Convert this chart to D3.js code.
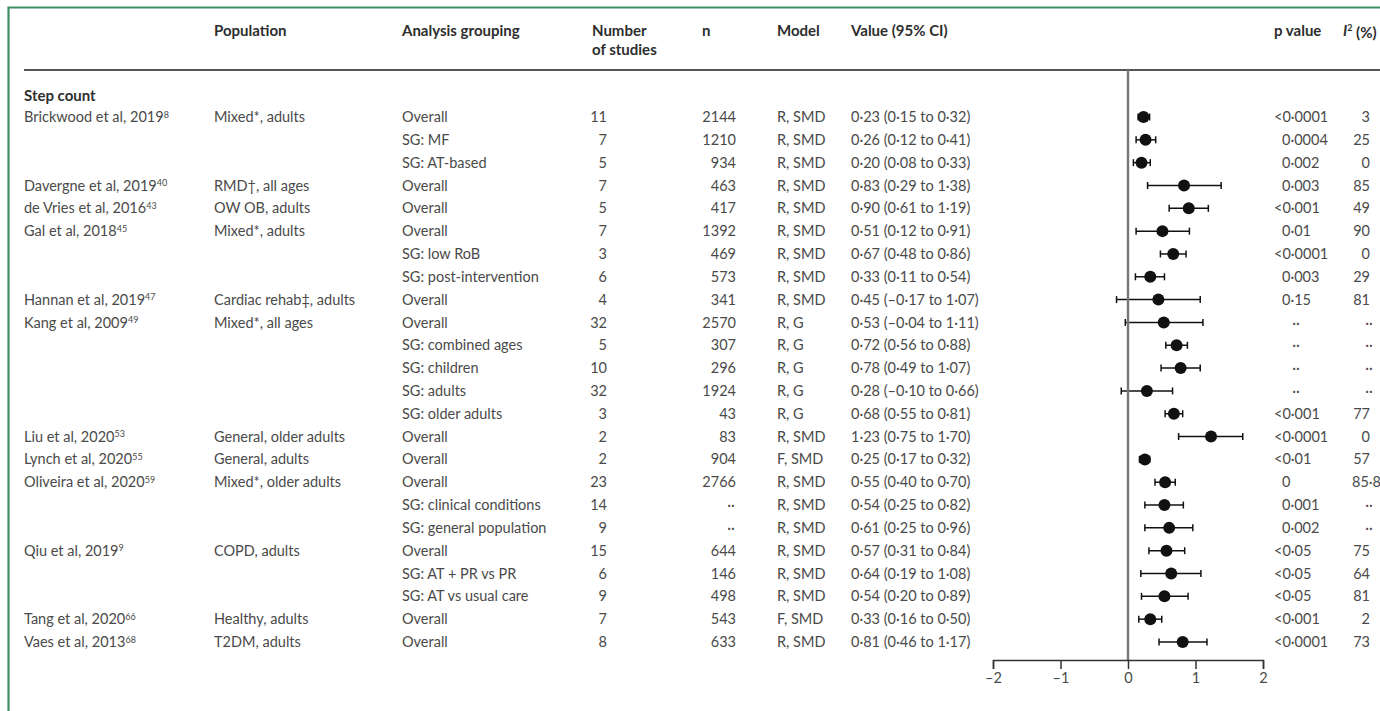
<!DOCTYPE html>
<html><head><meta charset="utf-8">
<script src="https://cdnjs.cloudflare.com/ajax/libs/d3/7.8.5/d3.min.js"></script>
<style>
body{margin:0;background:#fff;}
svg{display:block;}
text{font-family:Lato,"Open Sans",sans-serif;}
</style></head><body>
<script>
const studies = ["Brickwood et al, 2019","","","Davergne et al, 2019","de Vries et al, 2016","Gal et al, 2018","","","Hannan et al, 2019","Kang et al, 2009","","","","","Liu et al, 2020","Lynch et al, 2020","Oliveira et al, 2020","","","Qiu et al, 2019","","","Tang et al, 2020","Vaes et al, 2013"];
const refs = ["8","","","40","43","45","","","47","49","","","","","53","55","59","","","9","","","66","68"];
const populations = ["Mixed*, adults","","","RMD\u2020, all ages","OW OB, adults","Mixed*, adults","","","Cardiac rehab\u2021, adults","Mixed*, all ages","","","","","General, older adults","General, adults","Mixed*, older adults","","","COPD, adults","","","Healthy, adults","T2DM, adults"];
const groupings = ["Overall","SG: MF","SG: AT-based","Overall","Overall","Overall","SG: low RoB","SG: post-intervention","Overall","Overall","SG: combined ages","SG: children","SG: adults","SG: older adults","Overall","Overall","Overall","SG: clinical conditions","SG: general population","Overall","SG: AT + PR vs PR","SG: AT vs usual care","Overall","Overall"];
const nStudies = ["11","7","5","7","5","7","3","6","4","32","5","10","32","3","2","2","23","14","9","15","6","9","7","8"];
const nPart = ["2144","1210","934","463","417","1392","469","573","341","2570","307","296","1924","43","83","904","2766","··","··","644","146","498","543","633"];
const models = ["R, SMD","R, SMD","R, SMD","R, SMD","R, SMD","R, SMD","R, SMD","R, SMD","R, SMD","R, G","R, G","R, G","R, G","R, G","R, SMD","F, SMD","R, SMD","R, SMD","R, SMD","R, SMD","R, SMD","R, SMD","F, SMD","R, SMD"];
const est = [0.23,0.26,0.20,0.83,0.90,0.51,0.67,0.33,0.45,0.53,0.72,0.78,0.28,0.68,1.23,0.25,0.55,0.54,0.61,0.57,0.64,0.54,0.33,0.81];
const lo  = [0.15,0.12,0.08,0.29,0.61,0.12,0.48,0.11,-0.17,-0.04,0.56,0.49,-0.10,0.55,0.75,0.17,0.40,0.25,0.25,0.31,0.19,0.20,0.16,0.46];
const hi  = [0.32,0.41,0.33,1.38,1.19,0.91,0.86,0.54,1.07,1.11,0.88,1.07,0.66,0.81,1.70,0.32,0.70,0.82,0.96,0.84,1.08,0.89,0.50,1.17];
const pvals = ["<0·0001","0·0004","0·002","0·003","<0·001","0·01","<0·0001","0·003","0·15","··","··","··","··","<0·001","<0·0001","<0·01","0","0·001","0·002","<0·05","<0·05","<0·05","<0·001","<0·0001"];
const i2 = ["3","25","0","85","49","90","0","29","81","··","··","··","··","77","0","57","85·8","··","··","75","64","81","2","73"];
const tickVals = [-2,-1,0,1,2];

const W=1380,H=711;
const svg=d3.select("body").append("svg").attr("width",W).attr("height",H);
const TXT="#4a4a4a", BOLD="#2e2e2e";
const FS=14.5, FB=15;

// frame
svg.append("path").attr("d",`M8.5,${H} V7.5 H${W}`).attr("fill","none").attr("stroke","#3e8f62").attr("stroke-width",2.2);

// scales
const x=d3.scaleLinear().domain([-2,2]).range([993,1263]);
const y=d3.scaleLinear().domain([0,studies.length-1]).range([117,642]);

// header
const hdr=[["Population",214,31],["Analysis grouping",402,31],["Number",592,31],["of studies",592,50],["n",702,31],["Model",777,31],["Value (95% CI)",851,31],["p value",1274,31]];
svg.selectAll("text.h").data(hdr).join("text").attr("class","h")
 .attr("x",d=>d[1]).attr("y",d=>d[2]).attr("dy","0.35em").attr("font-size",FB).attr("font-weight",700).attr("fill",BOLD).text(d=>d[0]);
const ih=svg.append("text").attr("x",1343).attr("y",31).attr("dy","0.35em").attr("font-size",FB).attr("font-weight",700).attr("fill",BOLD);
ih.append("tspan").attr("font-style","italic").text("I");
ih.append("tspan").attr("font-size",9).attr("dy","-0.6em").text("2");
ih.append("tspan").attr("dy","0.45em").text(" (%)");

svg.append("line").attr("x1",24).attr("x2",W).attr("y1",70).attr("y2",70).attr("stroke","#555").attr("stroke-width",2);

svg.append("text").attr("x",24).attr("y",96).attr("dy","0.35em").attr("font-size",FB).attr("font-weight",700).attr("fill",BOLD).text("Step count");

const rows=svg.append("g").selectAll("g").data(d3.range(studies.length)).join("g").attr("transform",i=>`translate(0,${y(i)})`);
const base=s=>s.attr("dy","0.35em").attr("font-size",FS).attr("fill",TXT);

const st=rows.append("text").attr("x",24).call(base);
st.append("tspan").text(i=>studies[i]);
st.append("tspan").attr("font-size",9).attr("dy","-0.5em").text(i=>refs[i]);
rows.append("text").attr("x",214).call(base).text(i=>populations[i]);
rows.append("text").attr("x",402).call(base).text(i=>groupings[i]);
rows.append("text").attr("x",607).attr("text-anchor","end").call(base).text(i=>nStudies[i]);
rows.append("text").attr("x",736).attr("text-anchor",i=>nPart[i]==="··"?"middle":"end").attr("dx",i=>nPart[i]==="··"?-5:0).call(base).text(i=>nPart[i]);
rows.append("text").attr("x",777).call(base).text(i=>models[i]);
const f=v=>(v<0?"–":"")+Math.abs(v).toFixed(2).replace(".","·");
rows.append("text").attr("x",851).call(base).text(i=>`${f(est[i])} (${f(lo[i])} to ${f(hi[i])})`);
rows.append("text").attr("x",i=>pvals[i]==="··"?1296:(pvals[i][0]==="<"?1274:1282)).attr("text-anchor",i=>pvals[i]==="··"?"middle":"start").call(base).text(i=>pvals[i]);
rows.append("text").attr("x",i=>i2[i]==="··"?1369:(i2[i].includes("·")?1352:1370)).attr("text-anchor",i=>i2[i]==="··"?"middle":(i2[i].includes("·")?"start":"end")).call(base).text(i=>i2[i]);

// zero line
svg.append("line").attr("x1",x(0)).attr("x2",x(0)).attr("y1",70).attr("y2",660).attr("stroke","#777").attr("stroke-width",2.4);

// axis
const ax=svg.append("g").attr("transform","translate(0,660)")
 .call(d3.axisBottom(x).tickValues(tickVals).tickSize(9).tickSizeOuter(9).tickPadding(4).tickFormat(d=>d<0?"–"+Math.abs(d):d));
ax.select(".domain").attr("stroke","#333").attr("stroke-width",1.5);
ax.selectAll(".tick line").attr("stroke","#333").attr("stroke-width",1.5);
ax.selectAll(".tick text").attr("font-family","Lato,sans-serif").attr("font-size",FS).attr("fill",TXT);

// CIs
const ci=rows.append("g");
ci.append("line").attr("x1",i=>x(lo[i])).attr("x2",i=>x(hi[i])).attr("stroke","#111").attr("stroke-width",1.5);
ci.append("line").attr("x1",i=>x(lo[i])).attr("x2",i=>x(lo[i])).attr("y1",-3.5).attr("y2",3.5).attr("stroke","#111").attr("stroke-width",1.5);
ci.append("line").attr("x1",i=>x(hi[i])).attr("x2",i=>x(hi[i])).attr("y1",-3.5).attr("y2",3.5).attr("stroke","#111").attr("stroke-width",1.5);
ci.append("circle").attr("cx",i=>x(est[i])).attr("r",6).attr("fill","#111");
</script>
</body></html>
